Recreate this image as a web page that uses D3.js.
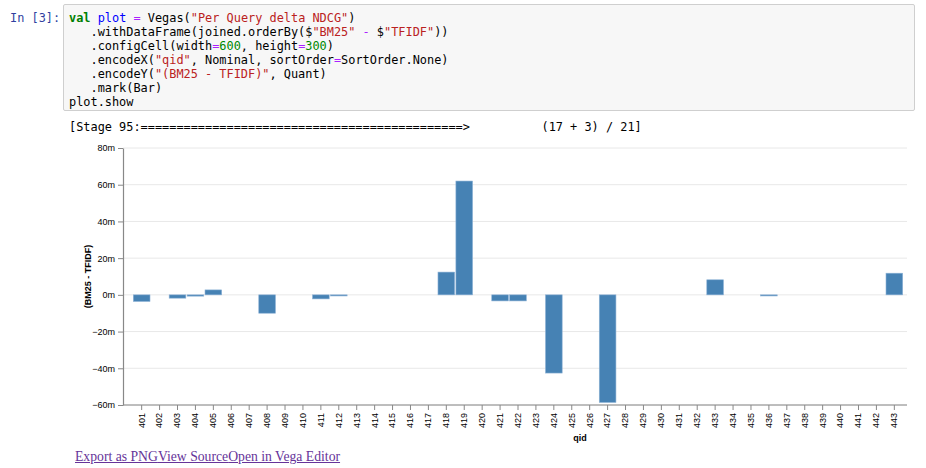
<!DOCTYPE html>
<html>
<head>
<meta charset="utf-8">
<script src="https://cdn.jsdelivr.net/npm/d3@7"></script>
<style>
  html, body { margin: 0; padding: 0; background: #fff; width: 926px; height: 468px; overflow: hidden; }
  .prompt { position: absolute; left: 10px; top: 11px; font: 11.9px/14px "DejaVu Sans Mono", monospace; color: #303F9F; white-space: pre; }
  .cell { position: absolute; left: 63px; top: 4px; width: 852px; height: 107px; background: #f7f7f7; border: 1px solid #cfcfcf; border-radius: 2px; box-sizing: border-box; }
  pre { margin: 0; position: absolute; font: 11.9px/14px "DejaVu Sans Mono", monospace; color: #000; }
  .code { left: 69px; top: 11px; }
  .stage { left: 69px; top: 120px; color: #000; }
  .kw { color: #008000; font-weight: bold; }
  .def { color: #0000ff; }
  .op { color: #AA22FF; }
  .str { color: #BA2121; }
  .num { color: #008800; }
  .links { position: absolute; left: 75px; top: 449px; font: 13.7px "Liberation Serif", "Times New Roman", serif; white-space: nowrap; }
  .links a { color: #663399; text-decoration: underline; }
  svg { position: absolute; left: 0; top: 0; }
</style>
</head>
<body>
<div class="prompt">In [3]:</div>
<div class="cell"></div>
<pre class="code"><span class="kw">val</span> <span class="def">plot</span> <span class="op">=</span> Vegas(<span class="str">"Per Query delta NDCG"</span>)
   .withDataFrame(joined.orderBy($<span class="str">"BM25"</span> <span class="op">-</span> $<span class="str">"TFIDF"</span>))
   .configCell(width<span class="op">=</span><span class="num">600</span>, height<span class="op">=</span><span class="num">300</span>)
   .encodeX(<span class="str">"qid"</span>, Nominal, sortOrder<span class="op">=</span>SortOrder.None)
   .encodeY(<span class="str">"(BM25 - TFIDF)"</span>, Quant)
   .mark(Bar)
plot.show</pre>
<pre class="stage">[Stage 95:=============================================>          (17 + 3) / 21]</pre>
<svg id="chart" width="926" height="468"></svg>
<div class="links"><a href="#">Export as PNG</a><a href="#">View Source</a><a href="#">Open in Vega Editor</a></div>
<script>
// ---- data ----
const qids = ["401","402","403","404","405","406","407","408","409","410","411","412","413","414","415","416","417","418","419","420","421","422","423","424","425","426","427","428","429","430","431","432","433","434","435","436","437","438","439","440","441","442","443"];
const deltas = [-0.0036, 0, -0.0018, -0.0007, 0.0027, 0, 0, -0.0100, 0, 0, -0.0022, -0.0006, 0, 0, 0, 0, 0, 0.0124, 0.0620, 0, -0.0033, -0.0033, 0, -0.0426, 0, 0, -0.0586, 0, 0, 0, 0, 0, 0.0082, 0, 0, -0.0006, 0, 0, 0, 0, 0, 0, 0.0118];
const yTicks = [-0.06, -0.04, -0.02, 0, 0.02, 0.04, 0.06, 0.08];
const xTitle = "qid";
const yTitle = "(BM25 - TFIDF)";

(function () {
const data = qids.map((q, i) => ({ qid: q, v: deltas[i] }));

const svg = d3.select("#chart");
const pLeft = 123, pRight = 907, pTop = 148, pBottom = 405;

const y = d3.scaleLinear().domain([-0.06, 0.08]).range([pBottom, pTop]);
const x = d3.scaleBand().domain(qids).range([132.7, 903.3]).paddingInner(0.07).paddingOuter(0.035);
const fmt = d3.formatPrefix(".0", 1e-3);

// grid
svg.append("g").selectAll("line").data(yTicks).join("line")
  .attr("x1", pLeft).attr("x2", pRight)
  .attr("y1", d => y(d)).attr("y2", d => y(d))
  .attr("stroke", "#e8e8e8").attr("stroke-width", 1);

// bars
svg.append("g").selectAll("rect").data(data).join("rect")
  .attr("x", d => x(d.qid))
  .attr("width", x.bandwidth())
  .attr("y", d => Math.min(y(d.v), y(0)))
  .attr("height", d => Math.abs(y(d.v) - y(0)))
  .attr("fill", "#4682b4")
  .attr("stroke", "#8db2d6").attr("stroke-width", 0.6);

// y axis
const gy = svg.append("g").attr("transform", `translate(${pLeft},0)`)
  .call(d3.axisLeft(y).tickValues(yTicks).tickFormat(fmt).tickSize(5).tickSizeOuter(0));
gy.select(".domain").attr("stroke", "#888").attr("stroke-width", 1.2);
gy.selectAll(".tick line").attr("stroke", "#888");
gy.selectAll("text").attr("font-family", "Liberation Sans, Arial, sans-serif").attr("font-size", 9).attr("fill", "#000").attr("x", -8);

// x axis
const gx = svg.append("g").attr("transform", `translate(0,${pBottom})`)
  .call(d3.axisBottom(x).tickSize(5).tickSizeOuter(0));
gx.select(".domain").remove();
gx.append("line").attr("x1", pLeft).attr("x2", pRight).attr("y1", 0).attr("y2", 0)
  .attr("stroke", "#888").attr("stroke-width", 1.2);
gx.selectAll(".tick line").attr("stroke", "#888");
gx.selectAll("text")
  .attr("font-family", "Liberation Sans, Arial, sans-serif").attr("font-size", 9).attr("fill", "#000")
  .attr("transform", "rotate(-90)")
  .attr("text-anchor", "end")
  .attr("x", -8).attr("y", 0).attr("dy", "0.32em");

// titles
svg.append("text").attr("x", 580).attr("y", 441)
  .attr("text-anchor", "middle").attr("font-family", "Liberation Sans, Arial, sans-serif")
  .attr("font-size", 9).attr("font-weight", "bold").text(xTitle);
svg.append("text").attr("transform", `translate(91,${(pTop + pBottom) / 2}) rotate(-90)`)
  .attr("text-anchor", "middle").attr("font-family", "Liberation Sans, Arial, sans-serif")
  .attr("font-size", 9).attr("font-weight", "bold").text(yTitle);
})();
</script>
</body>
</html>
